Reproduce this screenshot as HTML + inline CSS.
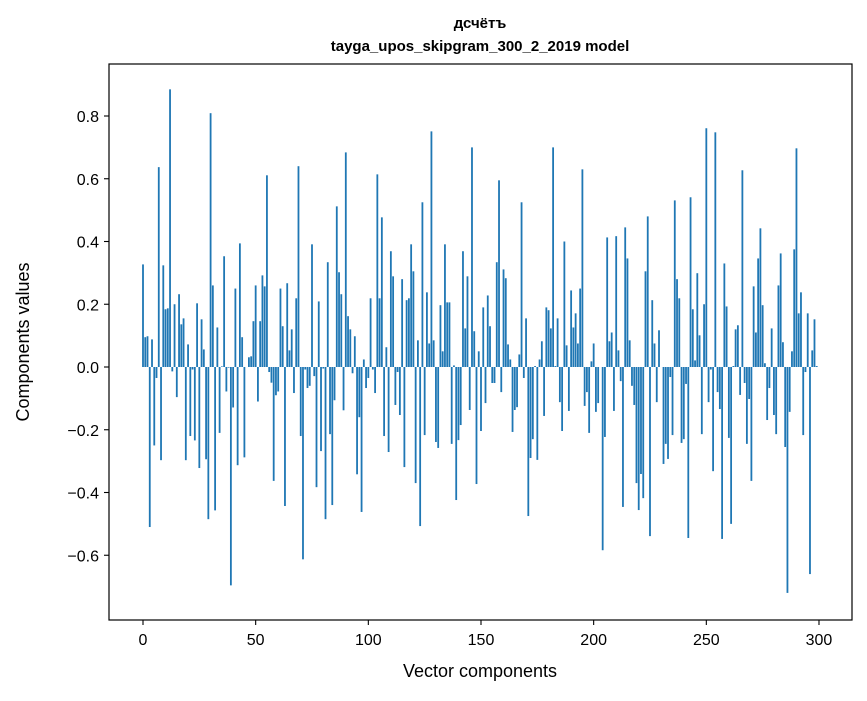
<!DOCTYPE html>
<html><head><meta charset="utf-8"><style>
body{margin:0;background:#fff;}
svg text{font-family:"Liberation Sans","DejaVu Sans",sans-serif;fill:#000;}
</style></head><body>
<svg id="chart" width="867" height="696" viewBox="0 0 867 696" xmlns="http://www.w3.org/2000/svg">
<rect width="867" height="696" fill="#fff"/>
<text x="480" y="28" text-anchor="middle" font-size="15" font-weight="bold">дсчётъ</text>
<text x="480" y="51" text-anchor="middle" font-size="15" font-weight="bold">tayga_upos_skipgram_300_2_2019 model</text>
<g id="bars"></g>
<g id="axes"></g>
<rect x="109" y="64" width="743" height="556" fill="none" stroke="#000" stroke-width="1.2"/>
<text x="480" y="677" text-anchor="middle" font-size="18">Vector components</text>
<text transform="translate(29,342) rotate(-90)" text-anchor="middle" font-size="18">Components values</text>
</svg>
<script>
const values = [
0.327,0.095,0.098,-0.51,0.088,-0.25,-0.035,0.637,-0.297,0.324,0.184,0.187,0.885,-0.014,0.2,-0.096,0.232,0.136,0.155,-0.297,0.072,-0.22,-0.008,-0.234,0.203,
-0.322,0.152,0.056,-0.294,-0.485,0.809,0.26,-0.457,0.126,-0.21,0.002,0.353,-0.078,-0.002,-0.696,-0.129,0.25,-0.313,0.394,0.095,-0.288,0,0.031,0.034,0.146,
0.26,-0.11,0.146,0.292,0.257,0.611,-0.016,-0.05,-0.363,-0.09,-0.078,0.25,0.13,-0.443,0.267,0.053,0.12,-0.083,0.219,0.64,-0.22,-0.613,-0.008,-0.067,-0.06,
0.391,-0.029,-0.383,0.209,-0.268,-0.005,-0.485,0.334,-0.214,-0.44,-0.106,0.512,0.302,0.232,-0.138,0.684,0.162,0.12,-0.02,0.098,-0.342,-0.16,-0.462,0.024,-0.067,
-0.035,0.219,-0.008,-0.083,0.614,0.219,0.477,-0.22,0.063,-0.271,0.369,0.289,-0.121,-0.016,-0.153,0.28,-0.319,0.213,0.219,0.391,0.305,-0.37,0.085,-0.507,0.525,
-0.217,0.238,0.075,0.751,0.085,-0.239,-0.258,0.197,0.05,0.391,0.206,0.206,-0.245,0.005,-0.424,-0.233,-0.185,0.369,0.123,0.289,-0.137,0.7,0.114,-0.373,0.05,
-0.204,0.19,-0.115,0.228,0.13,-0.051,-0.051,0.334,0.595,-0.08,0.311,0.283,0.072,0.024,-0.207,-0.137,-0.128,0.04,0.525,-0.035,0.155,-0.475,-0.29,-0.23,0.003,
-0.296,0.024,0.082,-0.156,0.19,0.181,0.123,0.7,0.003,0.155,-0.112,-0.204,0.4,0.069,-0.14,0.244,0.126,0.171,0.075,0.25,0.63,-0.124,-0.08,-0.21,0.018,
0.075,-0.143,-0.115,0,-0.584,-0.223,0.413,0.082,0.11,-0.14,0.417,0.053,-0.045,-0.446,0.445,0.346,0.085,-0.06,-0.121,-0.37,-0.456,-0.341,-0.418,0.305,0.48,
-0.539,0.213,0.075,-0.112,0.117,0,-0.309,-0.245,-0.293,-0.032,-0.217,0.531,0.28,0.219,-0.242,-0.23,-0.054,-0.545,0.541,0.184,0.021,0.299,0.101,-0.214,0.2,
0.761,-0.112,-0.008,-0.332,0.748,-0.08,-0.134,-0.548,0.33,0.193,-0.226,-0.5,0.003,0.12,0.133,-0.089,0.627,-0.051,-0.245,-0.102,-0.363,0.257,0.11,0.346,0.442,
0.197,0.012,-0.169,-0.067,0.123,-0.153,-0.214,0.26,0.362,0.079,-0.255,-0.72,-0.143,0.05,0.375,0.697,0.171,0.238,-0.217,-0.016,0.171,-0.66,0.053,0.152,0.003
];
const xTicks = [0,50,100,150,200,250,300];
const yTicks = [-0.6,-0.4,-0.2,0.0,0.2,0.4,0.6,0.8];
const yTickLabels = ["\u22120.6","\u22120.4","\u22120.2","0.0","0.2","0.4","0.6","0.8"];

const NS="http://www.w3.org/2000/svg";
const xScale = v => 143 + v*2.2533;
const yScale = v => 367 - v*313.75;
const barsG=document.getElementById('bars');
values.forEach((v,i)=>{
  const r=document.createElementNS(NS,'rect');
  const w=0.8*2.2533;
  const y0=yScale(0), y1=yScale(v);
  r.setAttribute('x',xScale(i)-w/2);
  r.setAttribute('y',Math.min(y0,y1));
  r.setAttribute('width',w);
  r.setAttribute('height',Math.max(Math.abs(y1-y0),0.01));
  r.setAttribute('fill','#1f77b4');
  
  
  barsG.appendChild(r);
});
const axesG=document.getElementById('axes');
xTicks.forEach(t=>{
  const x=xScale(t);
  const l=document.createElementNS(NS,'line');
  l.setAttribute('x1',x);l.setAttribute('x2',x);l.setAttribute('y1',620);l.setAttribute('y2',625);
  l.setAttribute('stroke','#000');l.setAttribute('stroke-width','1.1');
  
  
  axesG.appendChild(l);
  const tx=document.createElementNS(NS,'text');
  tx.setAttribute('x',x);tx.setAttribute('y',645);tx.setAttribute('text-anchor','middle');tx.setAttribute('font-size','16');
  tx.textContent=t;
  
  
  axesG.appendChild(tx);
});
yTicks.forEach((t,i)=>{
  const y=yScale(t);
  const l=document.createElementNS(NS,'line');
  l.setAttribute('x1',104);l.setAttribute('x2',109);l.setAttribute('y1',y);l.setAttribute('y2',y);
  l.setAttribute('stroke','#000');l.setAttribute('stroke-width','1.1');
  
  
  axesG.appendChild(l);
  const tx=document.createElementNS(NS,'text');
  tx.setAttribute('x',99);tx.setAttribute('y',y+6);tx.setAttribute('text-anchor','end');tx.setAttribute('font-size','16');
  tx.textContent=yTickLabels[i];
  
  
  axesG.appendChild(tx);
});
</script>
</body></html>
